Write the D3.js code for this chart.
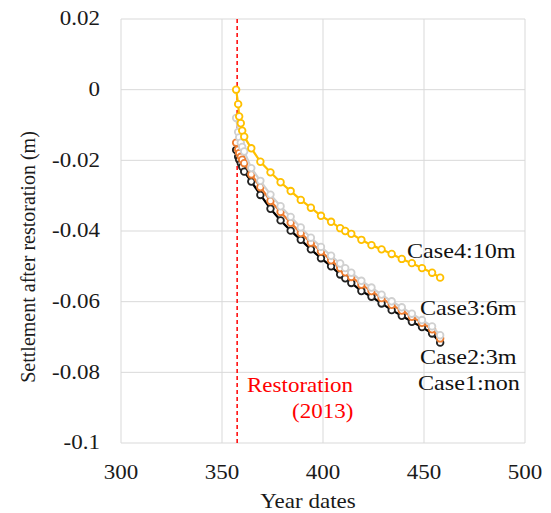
<!DOCTYPE html>
<html><head><meta charset="utf-8">
<script src="https://cdn.jsdelivr.net/npm/d3@7"></script>
<style>body{margin:0;background:#fff}svg{display:block}text{font-family:"Liberation Serif","Times New Roman",serif}</style>
</head><body>
<script>
const years = [357, 358, 358.5, 359.3, 360, 361, 364.5, 369, 374, 379, 384, 389, 394, 399, 404, 408.5, 411, 414, 419, 424, 429, 434, 439, 444, 449, 454, 458];
const case1 = [-0.0171, -0.0190, -0.0198, -0.0208, -0.0218, -0.0232, -0.0260, -0.0298, -0.0337, -0.0370, -0.0399, -0.0425, -0.0452, -0.0477, -0.0500, -0.0523, -0.0534, -0.0547, -0.0570, -0.0586, -0.0605, -0.0624, -0.0640, -0.0657, -0.0672, -0.0690, -0.0716];
const case2 = [-0.0150, -0.0170, -0.0180, -0.0190, -0.0198, -0.0208, -0.0240, -0.0276, -0.0315, -0.0346, -0.0377, -0.0406, -0.0433, -0.0458, -0.0483, -0.0505, -0.0517, -0.0530, -0.0552, -0.0570, -0.0590, -0.0609, -0.0625, -0.0643, -0.0660, -0.0678, -0.0704];
const case3 = [-0.0080, -0.0120, -0.0135, -0.0150, -0.0162, -0.0175, -0.0222, -0.0258, -0.0297, -0.0330, -0.0360, -0.0390, -0.0419, -0.0445, -0.0470, -0.0492, -0.0505, -0.0518, -0.0541, -0.0560, -0.0580, -0.0599, -0.0616, -0.0634, -0.0652, -0.0670, -0.0695];
const case4 = [0, -0.0041, -0.0076, -0.0095, -0.0116, -0.0133, -0.0166, -0.0204, -0.0234, -0.0262, -0.0287, -0.0312, -0.0334, -0.0357, -0.0374, -0.0392, -0.0400, -0.0408, -0.0425, -0.0440, -0.0452, -0.0465, -0.0479, -0.0491, -0.0505, -0.0518, -0.0532];
const seriesNames = ["Case1:non", "Case2:3m", "Case3:6m", "Case4:10m"];
const xTicks = [300, 350, 400, 450, 500];
const yTicks = [0.02, 0, -0.02, -0.04, -0.06, -0.08, -0.1];
const yTickLabels = ["0.02", "0", "-0.02", "-0.04", "-0.06", "-0.08", "-0.1"];
const restorationYear = 357.5;

const W = 551, H = 513;
const svg = d3.select("body").append("svg").attr("width", W).attr("height", H);
const x = d3.scaleLinear().domain([300, 500]).range([121, 525]);
const y = d3.scaleLinear().domain([-0.1, 0.02]).range([443, 19]);
const SX = 1.15;
const grid = "#d9d9d9";

svg.append("g").selectAll("line").data(yTicks).join("line")
  .attr("x1", x(300)).attr("x2", x(500)).attr("y1", d => y(d)).attr("y2", d => y(d))
  .attr("stroke", grid).attr("stroke-width", 1);
svg.append("g").selectAll("line").data(xTicks).join("line")
  .attr("y1", y(0.02)).attr("y2", y(-0.1)).attr("x1", d => x(d)).attr("x2", d => x(d))
  .attr("stroke", grid).attr("stroke-width", 1);

svg.append("g").selectAll("text").data(yTicks).join("text")
  .attr("transform", d => `translate(100,${y(d)}) scale(${SX},1)`)
  .attr("text-anchor", "end").attr("dominant-baseline", "central")
  .attr("font-size", 20).attr("fill", "#1a1a1a")
  .text((d, i) => yTickLabels[i]);
svg.append("g").selectAll("text").data(xTicks).join("text")
  .attr("transform", d => `translate(${x(d)},479) scale(${SX},1)`)
  .attr("text-anchor", "middle").attr("font-size", 20).attr("fill", "#1a1a1a")
  .text(d => d);

svg.append("text").attr("transform", `translate(308,508) scale(${SX},1)`)
  .attr("text-anchor", "middle").attr("font-size", 20).attr("fill", "#1a1a1a").text("Year dates");
svg.append("text").attr("transform", `translate(28,257) rotate(-90)`)
  .attr("text-anchor", "middle").attr("dominant-baseline", "central")
  .attr("font-size", 20).attr("fill", "#1a1a1a").text("Settlement after restoration (m)");

svg.append("line").attr("x1", x(restorationYear)).attr("x2", x(restorationYear))
  .attr("y1", y(0.02)).attr("y2", y(-0.1))
  .attr("stroke", "#ff0000").attr("stroke-width", 1.5).attr("stroke-dasharray", "4,3");

const series = [
  {vals: case1, color: "#000000", mark: "#222"},
  {vals: case2, color: "#ed7d31", mark: "#ed7d31"},
  {vals: case3, color: "#d0d0d0", mark: "#d0d0d0"},
  {vals: case4, color: "#ffc000", mark: "#ffc000"}
];
const line = d3.line().x(d => x(d[0])).y(d => y(d[1]));
series.forEach(s => {
  const pts = years.map((yr, i) => [yr, s.vals[i]]);
  const g = svg.append("g");
  g.append("path").datum(pts).attr("d", line).attr("fill", "none")
    .attr("stroke", s.color).attr("stroke-width", 2.2);
  g.selectAll("circle").data(pts).join("circle")
    .attr("cx", d => x(d[0])).attr("cy", d => y(d[1])).attr("r", 3.3)
    .attr("fill", "#fff").attr("stroke", s.mark).attr("stroke-width", 1.8);
});

const labelPos = [[418, 390], [420, 364], [420, 315], [407, 258]];
seriesNames.forEach((n, i) => {
  svg.append("text").attr("transform", `translate(${labelPos[i][0]},${labelPos[i][1]}) scale(${SX},1)`)
    .attr("font-size", 21).attr("fill", "#111").text(n);
});

svg.append("text").attr("transform", `translate(247,392) scale(${SX},1)`)
  .attr("font-size", 20).attr("fill", "#ff0000").text("Restoration");
svg.append("text").attr("transform", `translate(292,418) scale(${SX},1)`)
  .attr("font-size", 20).attr("fill", "#ff0000").text("(2013)");
</script>
</body></html>
